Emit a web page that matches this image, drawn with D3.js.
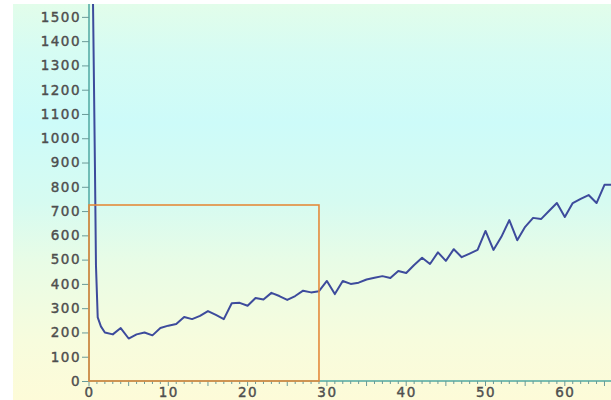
<!DOCTYPE html>
<html>
<head>
<meta charset="utf-8">
<script src="https://cdn.jsdelivr.net/npm/d3@7"></script>
<style>
  html, body { margin: 0; padding: 0; background: #ffffff; }
  svg { display: block; }
  .tick text { font-family: "DejaVu Sans", sans-serif; }
</style>
</head>
<body>
<svg id="chart" width="611" height="400"></svg>
<script>
// Measured series: x positions and values
const xValues = [0.38, 0.6, 0.75, 0.88, 1.1, 1.5,
  2, 3, 4, 5, 6, 7, 8, 9, 10,
  11, 12, 13, 14, 15, 16, 17, 18, 19, 20,
  21, 22, 23, 24, 25, 26, 27, 28, 29, 30,
  31, 32, 33, 34, 35, 36, 37, 38, 39, 40,
  41, 42, 43, 44, 45, 46, 47, 48, 49, 50,
  51, 52, 53, 54, 55, 56, 57, 58, 59, 60,
  61, 62, 63, 64, 65, 66];
const yValues = [1900, 1300, 880, 475, 262, 225,
  200, 192, 218, 175, 192, 200, 188, 218, 228,
  235, 264, 255, 268, 288, 272, 255, 320, 322, 310,
  342, 336, 363, 350, 334, 350, 372, 365, 370, 412,
  358, 412, 400, 405, 418, 425, 432, 424, 453, 445,
  478, 508, 482, 530, 495, 543, 510, 525, 540, 618,
  540, 594, 663, 580, 635, 672, 667, 700, 733, 676,
  733, 750, 766, 733, 808, 808];

// Axis ticks
const yTicks = d3.range(0, 1501, 100);
const xMajorTicks = [0, 10, 20, 30, 40, 50, 60];
const xMinorTicks = d3.range(0, 67, 1);

// Highlighted window: x 0..29, value 0..725
const windowX = [0, 29];
const windowY = [0, 725];

const svg = d3.select("#chart");
const W = 611, H = 400;

const x = d3.scaleLinear().domain([0, 66]).range([89, 612.4]);
const y = d3.scaleLinear().domain([0, 1553]).range([381, 4]);

// Background gradient
const defs = svg.append("defs");
const grad = defs.append("linearGradient")
  .attr("id", "bg").attr("x1", 0).attr("y1", 0).attr("x2", 0).attr("y2", 1);
[[0, "#e2fdea"], [0.12, "#d6fcf3"], [0.3, "#cdfbf9"], [0.5, "#d6fbf1"],
 [0.65, "#e8fce6"], [0.85, "#f7fcdd"], [1, "#fdfbd8"]]
  .forEach(([o, c]) => grad.append("stop").attr("offset", o).attr("stop-color", c));

svg.append("rect").attr("x", 13).attr("y", 4)
  .attr("width", W - 13).attr("height", H - 4)
  .attr("fill", "url(#bg)");

defs.append("clipPath").attr("id", "plotClip")
  .append("rect").attr("x", 89).attr("y", 4).attr("width", W - 89).attr("height", 381 - 4);

const labelStyle = sel => sel
  .attr("fill", "#4e4e4e").attr("stroke", "#4e4e4e").attr("stroke-width", 0.4)
  .attr("font-size", 13.5).attr("letter-spacing", 1.5);

// Y axis
const yAxis = svg.append("g")
  .attr("transform", `translate(${x(0)},0)`)
  .call(d3.axisLeft(y).tickValues(yTicks).tickSize(7).tickPadding(1).tickFormat(d3.format("d")));
yAxis.select(".domain").attr("stroke", "#4fa9a2").attr("stroke-width", 1.5)
  .attr("d", `M0,${y(1553)}V${y(0)}`);
yAxis.selectAll(".tick line").attr("stroke", "#6a9a98");
yAxis.selectAll(".tick text").call(labelStyle);

// X axis: minor ticks every unit, longer at fives
const xAxisG = svg.append("g").attr("transform", `translate(0,${y(0)})`);
xAxisG.append("line").attr("x1", x(0)).attr("x2", W).attr("y1", 0).attr("y2", 0)
  .attr("stroke", "#4fa9a2").attr("stroke-width", 1.5);
xAxisG.selectAll("line.minor").data(xMinorTicks).join("line")
  .attr("class", "minor")
  .attr("x1", d => x(d)).attr("x2", d => x(d))
  .attr("y1", 0).attr("y2", d => d % 5 === 0 ? 5 : 3)
  .attr("stroke", "#6a9a98").attr("stroke-width", 1);
const xAxis = xAxisG.append("g")
  .call(d3.axisBottom(x).tickValues(xMajorTicks).tickSize(0).tickPadding(6).tickFormat(d3.format("d")));
xAxis.select(".domain").remove();
xAxis.selectAll(".tick text").call(labelStyle);

// Data line
const line = d3.line().x((d, i) => x(xValues[i])).y(d => y(d));
svg.append("path")
  .datum(yValues)
  .attr("clip-path", "url(#plotClip)")
  .attr("fill", "none")
  .attr("stroke", "#3d4b9c")
  .attr("stroke-width", 2)
  .attr("stroke-linejoin", "round")
  .attr("d", line);

// Highlight window
svg.append("rect")
  .attr("x", x(windowX[0])).attr("y", y(windowY[1]))
  .attr("width", x(windowX[1]) - x(windowX[0]))
  .attr("height", y(windowY[0]) - y(windowY[1]))
  .attr("fill", "none")
  .attr("stroke", "#e48a3c")
  .attr("stroke-width", 1.6);
</script>
</body>
</html>
